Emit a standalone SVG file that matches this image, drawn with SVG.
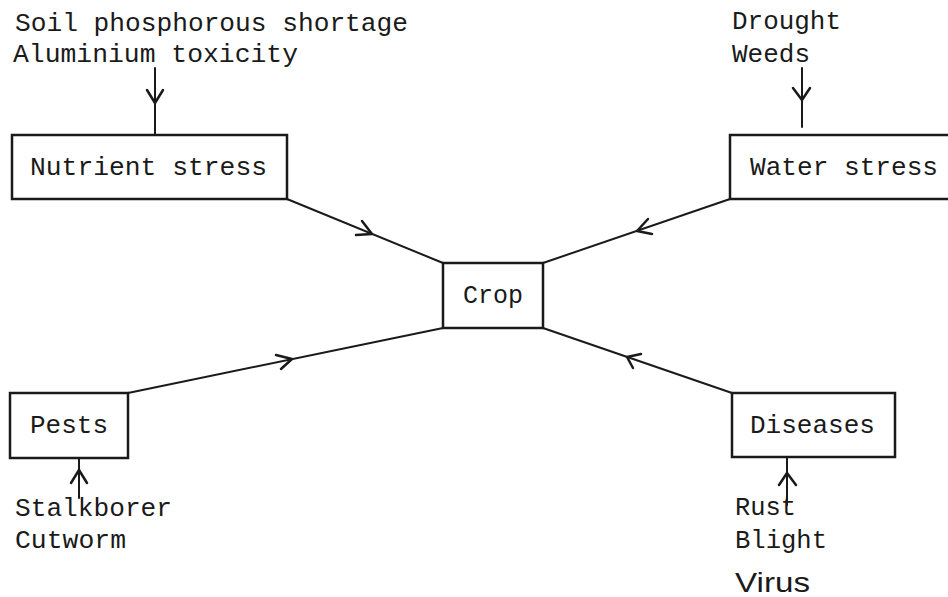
<svg xmlns="http://www.w3.org/2000/svg" width="948" height="597" viewBox="0 0 948 597">
<style>
.bg{fill:#ffffff}
.box{fill:none;stroke:#1a1a1a;stroke-width:2.5}
.ln{fill:none;stroke:#1a1a1a;stroke-width:2;stroke-linecap:round}
.ah{fill:none;stroke:#1a1a1a;stroke-width:2.5;stroke-linecap:round;stroke-linejoin:round}
.t{font-family:"Liberation Mono","Courier New",monospace;font-size:26px;fill:#1a1a1a}
.s{font-family:"Liberation Sans",Arial,sans-serif;font-size:28px;fill:#1a1a1a}
</style>
<rect class="bg" x="0" y="0" width="948" height="597"/>
<g id="connectors">
<line class="ln" x1="155" y1="68" x2="155" y2="135"/>
<polyline class="ah" points="147,90 155,103 163,90"/>
<line class="ln" x1="802" y1="68" x2="802" y2="127"/>
<polyline class="ah" points="793,88 802,100 810,88"/>
<line class="ln" x1="79" y1="458" x2="79" y2="498"/>
<polyline class="ah" points="71,483 79,470 87,483"/>
<line class="ln" x1="787" y1="457" x2="787" y2="505"/>
<polyline class="ah" points="779,485 787,473 796,485"/>
<line class="ln" x1="287" y1="199" x2="443" y2="263"/>
<polyline class="ah" points="356,235 372,234 362,221"/>
<line class="ln" x1="730" y1="199" x2="543" y2="263"/>
<polyline class="ah" points="652,234 637,231 648,219"/>
<line class="ln" x1="128" y1="393" x2="443" y2="328"/>
<polyline class="ah" points="281,369 292,359 276,355"/>
<line class="ln" x1="543" y1="328" x2="732" y2="393"/>
<polyline class="ah" points="641,354 627,357 633,368"/>
</g>
<g id="nutrient">
<rect class="box" x="12" y="135" width="275" height="64"/>
<text class="t" x="30" y="175" textLength="237" lengthAdjust="spacingAndGlyphs">Nutrient stress</text>
</g>
<g id="nutrient-causes">
<text class="t" x="15" y="31" textLength="393" lengthAdjust="spacingAndGlyphs">Soil phosphorous shortage</text>
<text class="t" x="13" y="62" textLength="285" lengthAdjust="spacingAndGlyphs">Aluminium toxicity</text>
</g>
<g id="water">
<rect class="box" x="730" y="135" width="230" height="64"/>
<text class="t" x="750" y="175" textLength="188" lengthAdjust="spacingAndGlyphs">Water stress</text>
</g>
<g id="water-causes">
<text class="t" x="732" y="29" textLength="109" lengthAdjust="spacingAndGlyphs">Drought</text>
<text class="t" x="732" y="62" textLength="78" lengthAdjust="spacingAndGlyphs">Weeds</text>
</g>
<g id="crop">
<rect class="box" x="443" y="263" width="100" height="65"/>
<text class="t" x="463" y="303" textLength="60" lengthAdjust="spacingAndGlyphs">Crop</text>
</g>
<g id="pests">
<rect class="box" x="10" y="393" width="118" height="65"/>
<text class="t" x="30" y="433" textLength="78" lengthAdjust="spacingAndGlyphs">Pests</text>
</g>
<g id="pests-causes">
<text class="t" x="15" y="516" textLength="157" lengthAdjust="spacingAndGlyphs">Stalkborer</text>
<text class="t" x="15" y="548" textLength="111" lengthAdjust="spacingAndGlyphs">Cutworm</text>
</g>
<g id="diseases">
<rect class="box" x="732" y="393" width="163" height="64"/>
<text class="t" x="750" y="433" textLength="125" lengthAdjust="spacingAndGlyphs">Diseases</text>
</g>
<g id="diseases-causes">
<text class="t" x="735" y="515" textLength="61" lengthAdjust="spacingAndGlyphs">Rust</text>
<text class="t" x="735" y="548" textLength="92" lengthAdjust="spacingAndGlyphs">Blight</text>
<text class="s" x="735" y="592" textLength="75" lengthAdjust="spacingAndGlyphs">Virus</text>
</g>
</svg>
